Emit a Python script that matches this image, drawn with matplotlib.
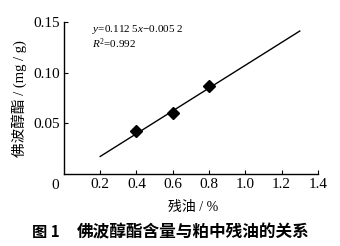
import matplotlib
matplotlib.use("Agg")
import matplotlib.pyplot as plt

# data
oil = [0.4, 0.6, 0.8]
phorbol = [0.042, 0.060, 0.087]
slope, intercept = 0.1125, -0.0052
fit_range = [0.2, 1.3]
xticks = [0.2, 0.4, 0.6, 0.8, 1.0, 1.2, 1.4]
yticks = [0.05, 0.10, 0.15]

serif = ['Liberation Serif', 'Noto Sans CJK SC', 'DejaVu Serif']
cjk = ['Noto Sans CJK SC', 'DejaVu Sans']
plt.rcParams['font.family'] = serif
plt.rcParams['mathtext.fontset'] = 'custom'
plt.rcParams['mathtext.rm'] = 'Liberation Serif'
plt.rcParams['mathtext.it'] = 'Liberation Serif:italic'

fig = plt.figure(figsize=(3.4, 2.46), dpi=100)
ax = fig.add_axes([0.188, 0.2927, 0.747, 0.618])

fx = fit_range
fy = [slope * v + intercept for v in fx]
ax.plot(fx, fy, color='black', lw=1.0)
ax.plot(oil, phorbol, linestyle='none', marker='D', ms=6, color='black')

ax.set_xlim(0, 1.4)
ax.set_ylim(0, 0.15)
ax.set_xticks(xticks)
ax.set_xticklabels(['0.2', '0.4', '0.6', '0.8', '1.0', '1.2', '1.4'])
ax.set_yticks(yticks)
ax.set_yticklabels(['0.05', '0.10', '0.15'])
ax.tick_params(direction='in', length=3, width=0.8, labelsize=11, pad=3)
for s in ['top', 'right']:
    ax.spines[s].set_visible(False)
for s in ['left', 'bottom']:
    ax.spines[s].set_linewidth(1.0)

ax.text(-0.025, -0.011, '0', transform=ax.transData, ha='right', va='center', fontsize=11)

ax.text(0.11, 0.95, r'$y$=0.112 5$x$−0.005 2', transform=ax.transAxes,
        ha='left', va='center', fontsize=8)
ax.text(0.11, 0.86, r'$R^2$=0.992', transform=ax.transAxes,
        ha='left', va='center', fontsize=8)

fig.text(0.055, 0.60, '佛波醇酯 / (mg / g)', rotation=90, ha='center', va='center',
         fontsize=10.5, family=serif)
fig.text(0.567, 0.158, '残油 / %', ha='center', va='center', fontsize=10, family=serif)
fig.text(0.094, 0.057, '图 1', ha='left', va='center', fontsize=11, weight='bold', family=cjk)
fig.text(0.226, 0.057, '佛波醇酯含量与粕中残油的关系', ha='left', va='center',
         fontsize=12, weight='bold', family=cjk)

fig.savefig('out.png', dpi=100)
